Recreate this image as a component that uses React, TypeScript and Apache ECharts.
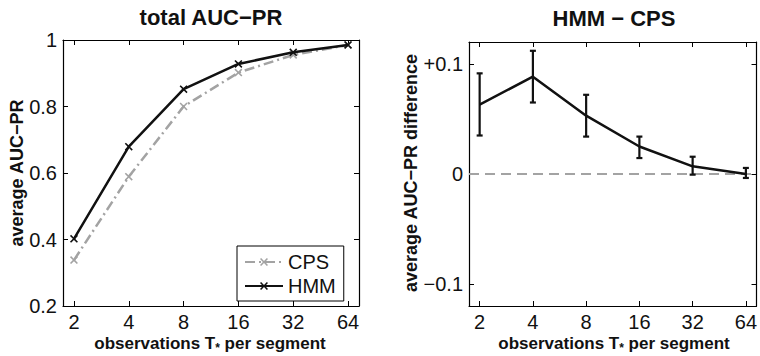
import React, { useEffect, useRef } from "react";
import * as echarts from "echarts";

const CATEGORIES = [2, 4, 8, 16, 32, 64];
const CPS_VALUES = [0.338, 0.589, 0.8, 0.902, 0.955, 0.985];
const HMM_VALUES = [0.402, 0.679, 0.852, 0.928, 0.963, 0.985];
const DIFF_MEAN = [0.063, 0.0885, 0.053, 0.025, 0.007, 0.0];
const DIFF_LOW = [0.035, 0.065, 0.034, 0.0145, -0.0006, -0.0036];
const DIFF_HIGH = [0.0915, 0.112, 0.072, 0.034, 0.0157, 0.0055];
const LEFT_Y_TICKS = [0.2, 0.4, 0.6, 0.8, 1];
const RIGHT_Y_TICKS = [-0.1, 0, 0.1];

const FONT = "'Liberation Sans', Arial, Helvetica, sans-serif";
const XS = CATEGORIES.map((c) => Math.log2(c));
const CROSS = "path://M0,1.4L1.4,0L5,3.6L8.6,0L10,1.4L6.4,5L10,8.6L8.6,10L5,6.4L1.4,10L0,8.6L3.6,5Z";

function xAxisPair(grid: number) {
  const common = {
    gridIndex: grid,
    type: "value" as const,
    min: 0.8,
    max: 6.2,
    splitLine: { show: false },
    axisLine: { show: true, onZero: false, lineStyle: { color: "#000", width: 1.2 } },
    axisTick: { show: true, inside: true, length: 5, customValues: XS, lineStyle: { color: "#000" } },
  };
  return [
    {
      ...common,
      position: "bottom",
      axisLabel: {
        show: true,
        customValues: XS,
        margin: 6,
        color: "#111",
        fontSize: 20,
        fontFamily: FONT,
        formatter: (v: number) => String(Math.round(Math.pow(2, v))),
      },
    },
    { ...common, position: "top", axisLabel: { show: false } },
  ];
}

function yAxisPair(grid: number, min: number, max: number, ticks: number[], fmt: (v: number) => string) {
  const common = {
    gridIndex: grid,
    type: "value" as const,
    min,
    max,
    splitLine: { show: false },
    axisLine: { show: true, onZero: false, lineStyle: { color: "#000", width: 1.2 } },
    axisTick: { show: true, inside: true, length: 5, customValues: ticks, lineStyle: { color: "#000" } },
  };
  return [
    {
      ...common,
      position: "left",
      axisLabel: {
        show: true,
        customValues: ticks,
        margin: 6,
        color: "#111",
        fontSize: 20,
        fontFamily: FONT,
        formatter: fmt,
      },
    },
    { ...common, position: "right", axisLabel: { show: false } },
  ];
}

export default function App() {
  const ref = useRef<HTMLDivElement>(null);
  useEffect(() => {
    if (!ref.current) return;
    const chart = echarts.init(ref.current, null, { renderer: "svg" });
    const errData = CATEGORIES.map((c, i) => [Math.log2(c), DIFF_MEAN[i], DIFF_LOW[i], DIFF_HIGH[i]]);
    const option: any = {
      animation: false,
      backgroundColor: "#fff",
      grid: [
        { left: 63, top: 40, width: 296, height: 266 },
        { left: 469, top: 42, width: 290, height: 264 },
      ],
      xAxis: [...xAxisPair(0), ...xAxisPair(1)],
      yAxis: [
        ...yAxisPair(0, 0.2, 1, LEFT_Y_TICKS, (v: number) => (Math.abs(v - 1) < 1e-9 ? "1" : v.toFixed(1))),
        ...yAxisPair(1, -0.12, 0.12, RIGHT_Y_TICKS, (v: number) =>
          Math.abs(v) < 1e-9 ? "0" : v > 0 ? "+" + v.toFixed(1) : "\u2212" + Math.abs(v).toFixed(1)
        ),
      ],
      legend: {
        data: ["CPS", "HMM"],
        orient: "vertical",
        left: 237,
        top: 246,
        itemWidth: 38,
        itemHeight: 10,
        itemGap: 4,
        itemTextGap: 6,
        padding: [6, 8, 5, 7],
        borderColor: "#000",
        borderWidth: 1,
        backgroundColor: "#fff",
        borderRadius: 0,
        textStyle: { fontSize: 20, fontFamily: FONT, color: "#111", lineHeight: 20 },
      },
      graphic: [
        {
          type: "text",
          x: 211,
          y: 17,
          style: { text: "total AUC\u2212PR", font: `bold 22px ${FONT}`, fill: "#111", align: "center", verticalAlign: "middle" },
        },
        {
          type: "text",
          x: 614,
          y: 18,
          style: { text: "HMM \u2212 CPS", font: `bold 22px ${FONT}`, fill: "#111", align: "center", verticalAlign: "middle" },
        },
        {
          type: "text",
          x: 17,
          y: 173,
          rotation: Math.PI / 2,
          style: { text: "average AUC\u2212PR", font: `bold 18px ${FONT}`, fill: "#111", align: "center", verticalAlign: "middle" },
        },
        {
          type: "text",
          x: 411,
          y: 173,
          rotation: Math.PI / 2,
          style: {
            text: "average AUC\u2212PR difference",
            font: `bold 18px ${FONT}`,
            fill: "#111",
            align: "center",
            verticalAlign: "middle",
          },
        },
        ...[210, 614].map((cx) => ({
          type: "text",
          x: cx,
          y: 343,
          style: {
            text: "observations T{s|*} per segment",
            font: `bold 17px ${FONT}`,
            fill: "#111",
            align: "center",
            verticalAlign: "middle",
            rich: {
              s: { font: `bold 12px ${FONT}`, fill: "#111", padding: [9, 0, 0, 0] },
            },
          },
        })),
      ],
      series: [
        {
          name: "CPS",
          type: "line",
          xAxisIndex: 0,
          yAxisIndex: 0,
          data: CATEGORIES.map((c, i) => [Math.log2(c), CPS_VALUES[i]]),
          symbol: CROSS,
          symbolSize: 8,
          itemStyle: { color: "#a3a3a3" },
          lineStyle: { color: "#a3a3a3", width: 2.5, type: [10, 4, 2, 4] },
          z: 2,
        },
        {
          name: "HMM",
          type: "line",
          xAxisIndex: 0,
          yAxisIndex: 0,
          data: CATEGORIES.map((c, i) => [Math.log2(c), HMM_VALUES[i]]),
          symbol: CROSS,
          symbolSize: 8,
          itemStyle: { color: "#111" },
          lineStyle: { color: "#111", width: 2.5 },
          z: 3,
        },
        {
          name: "diff",
          type: "line",
          xAxisIndex: 2,
          yAxisIndex: 2,
          data: CATEGORIES.map((c, i) => [Math.log2(c), DIFF_MEAN[i]]),
          showSymbol: false,
          symbol: "none",
          lineStyle: { color: "#111", width: 2.5 },
          z: 3,
          markLine: {
            silent: true,
            symbol: ["none", "none"],
            label: { show: false },
            lineStyle: { color: "#a3a3a3", width: 2, type: [10, 6] },
            data: [{ yAxis: 0 }],
            z: 1,
          },
        },
        {
          name: "err",
          type: "custom",
          xAxisIndex: 2,
          yAxisIndex: 2,
          data: errData,
          z: 4,
          renderItem: (params: any, api: any) => {
            const x = api.value(0);
            const lo = api.coord([x, api.value(2)]);
            const hi = api.coord([x, api.value(3)]);
            const cap = 3;
            const style = { stroke: "#111", lineWidth: 2.2 };
            return {
              type: "group",
              children: [
                { type: "line", shape: { x1: lo[0], y1: lo[1], x2: hi[0], y2: hi[1] }, style },
                { type: "line", shape: { x1: lo[0] - cap, y1: lo[1], x2: lo[0] + cap, y2: lo[1] }, style },
                { type: "line", shape: { x1: hi[0] - cap, y1: hi[1], x2: hi[0] + cap, y2: hi[1] }, style },
              ],
            };
          },
        },
      ],
    };
    chart.setOption(option);
    return () => chart.dispose();
  }, []);
  return (
    <div
      ref={ref}
      style={{ position: "absolute", left: 0, top: 0, width: 760, height: 356, background: "#fff" }}
    />
  );
}
